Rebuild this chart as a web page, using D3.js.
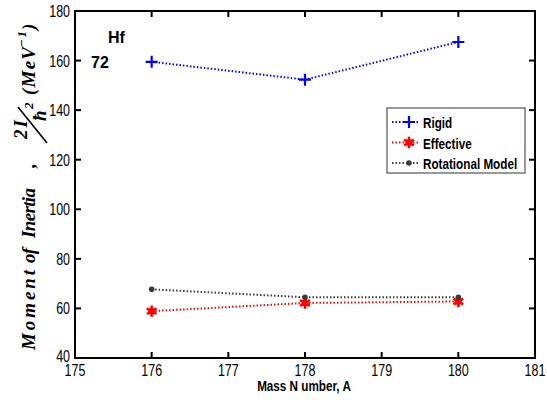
<!DOCTYPE html>
<html>
<head>
<meta charset="utf-8">
<script src="https://cdn.jsdelivr.net/npm/d3@7"></script>
<style>
  body { margin: 0; background: #fff; }
  text { font-family: "Liberation Sans", Arial, sans-serif; }
</style>
</head>
<body>
<div id="chart"></div>
<script>
var massNumbers = [176, 178, 180];
var rigid = [159.5, 152.3, 167.5];
var effective = [58.9, 62.2, 62.8];
var rotational = [67.7, 64.5, 64.5];
var seriesNames = ["Rigid", "Effective", "Rotational Model"];
var xTicks = [175, 176, 177, 178, 179, 180, 181];
var yTicks = [40, 60, 80, 100, 120, 140, 160, 180];

var width = 547, height = 400;
var margin = {top: 11, left: 75, right: 12, bottom: 42};

var svg = d3.select("#chart").append("svg")
    .attr("width", width)
    .attr("height", height);

var x = d3.scaleLinear().domain([175, 181]).range([margin.left, width - margin.right]);
var y = d3.scaleLinear().domain([40, 180]).range([height - margin.bottom, margin.top]);

// condensed looking text (no narrow font available)
function narrow(parent, tx, ty, str, anchor, size, weight) {
    return parent.append("text")
        .attr("transform", "translate(" + tx + "," + ty + ") scale(0.78,1)")
        .attr("text-anchor", anchor)
        .attr("font-size", size)
        .attr("font-weight", weight || "normal")
        .text(str);
}

// frame
svg.append("rect")
    .attr("x", x(175)).attr("y", y(180))
    .attr("width", x(181) - x(175)).attr("height", y(40) - y(180))
    .attr("fill", "none").attr("stroke", "#000").attr("stroke-width", 2);

var tickLen = 6;
xTicks.forEach(function(t) {
    svg.append("line").attr("x1", x(t)).attr("x2", x(t))
        .attr("y1", y(40)).attr("y2", y(40) - tickLen).attr("stroke", "#000").attr("stroke-width", 2);
    svg.append("line").attr("x1", x(t)).attr("x2", x(t))
        .attr("y1", y(180)).attr("y2", y(180) + tickLen).attr("stroke", "#000").attr("stroke-width", 2);
    narrow(svg, x(t), y(40) + 18, t, "middle", 16);
});
yTicks.forEach(function(t) {
    svg.append("line").attr("x1", x(175)).attr("x2", x(175) + tickLen)
        .attr("y1", y(t)).attr("y2", y(t)).attr("stroke", "#000").attr("stroke-width", 2);
    svg.append("line").attr("x1", x(181)).attr("x2", x(181) - tickLen)
        .attr("y1", y(t)).attr("y2", y(t)).attr("stroke", "#000").attr("stroke-width", 2);
    narrow(svg, x(175) - 5, y(t) + (t === 40 ? 4 : 6), t, "end", 16);
});

// axis labels
narrow(svg, 304, 391, "Mass N umber, A", "middle", 15, "bold");

// y label, drawn in a rotated group: local x = -screen y, local y = screen x
var yg = svg.append("g").attr("transform", "rotate(-90)")
    .attr("font-style", "italic").attr("font-weight", "bold");
function ylab(str, lx, ly, len, size) {
    var t = yg.append("text").attr("x", lx).attr("y", ly)
        .attr("font-size", size || 19)
        .style("font-family", "'Liberation Serif', 'DejaVu Serif', serif")
        .text(str);
    if (len) t.attr("textLength", len).attr("lengthAdjust", "spacing");
    return t;
}
ylab("Moment", -350, 35, 80);
ylab("of", -263, 35, 15);
ylab("Inertia", -238, 35, 50);
ylab(",", -168, 35);
ylab("2I", -139, 27, 19);
yg.append("line").attr("x1", -143).attr("y1", 47).attr("x2", -107).attr("y2", 18)
    .attr("stroke", "#000").attr("stroke-width", 1.6);
ylab("ħ", -121, 46, 12);
ylab("2", -109, 33, null, 13);
ylab("(MeV", -95, 35, 48);
ylab("−1", -47, 26, 16, 13);
ylab(")", -30, 35);

// element label
svg.append("text").attr("x", 108).attr("y", 43).attr("font-size", 16).attr("font-weight", "bold").text("Hf");
svg.append("text").attr("x", 91).attr("y", 68).attr("font-size", 16).attr("font-weight", "bold").text("72");

var series = [
    {name: seriesNames[0], values: rigid, color: "#0000ff", marker: "plus"},
    {name: seriesNames[1], values: effective, color: "#ff0000", marker: "star"},
    {name: seriesNames[2], values: rotational, color: "#3a3a3a", marker: "dot"}
];

var line = d3.line().x(function(d) { return x(d[0]); }).y(function(d) { return y(d[1]); });

function drawMarker(g, type, cx, cy, color) {
    if (type === "plus") {
        g.append("path").attr("d", "M" + (cx - 6) + "," + cy + "H" + (cx + 6) + "M" + cx + "," + (cy - 6) + "V" + (cy + 6))
            .attr("stroke", color).attr("stroke-width", 2.2).attr("fill", "none");
    } else if (type === "star") {
        g.append("path").attr("d", d3.symbol().type(d3.symbolAsterisk || d3.symbolCross).size(90)())
            .attr("transform", "translate(" + cx + "," + cy + ")")
            .attr("stroke", color).attr("stroke-width", 2.5).attr("fill", color);
        g.append("circle").attr("cx", cx).attr("cy", cy).attr("r", 3.5).attr("fill", color);
    } else {
        g.append("circle").attr("cx", cx).attr("cy", cy).attr("r", 2.8).attr("fill", color);
    }
}

series.forEach(function(s) {
    var pts = massNumbers.map(function(m, i) { return [m, s.values[i]]; });
    svg.append("path").datum(pts).attr("d", line)
        .attr("fill", "none").attr("stroke", s.color).attr("stroke-width", 2)
        .attr("stroke-dasharray", "1.5,2");
    var g = svg.append("g");
    pts.forEach(function(p) { drawMarker(g, s.marker, x(p[0]), y(p[1]), s.color); });
});

// legend
var lg = svg.append("g");
lg.append("rect").attr("x", 387).attr("y", 108).attr("width", 138).attr("height", 65)
    .attr("fill", "#fff").attr("stroke", "#333").attr("stroke-width", 1);
series.forEach(function(s, i) {
    var ly = 122 + i * 20.5;
    lg.append("line").attr("x1", 392).attr("x2", 420).attr("y1", ly).attr("y2", ly)
        .attr("stroke", s.color).attr("stroke-width", 2).attr("stroke-dasharray", "1.5,2");
    drawMarker(lg, s.marker, 409, ly, s.color);
    narrow(lg, 423, ly + 6, s.name, "start", 15, "bold");
});
</script>
</body>
</html>
